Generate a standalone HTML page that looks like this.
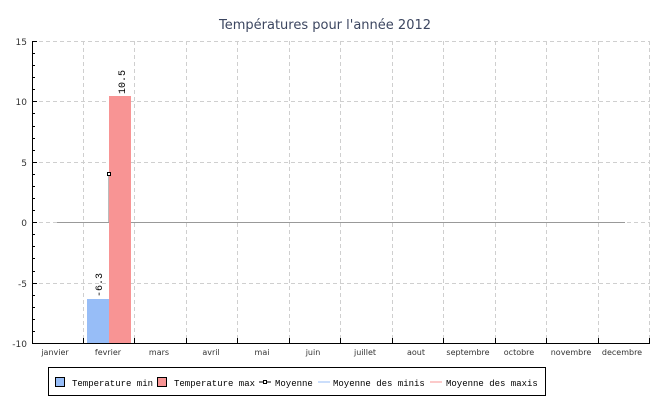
<!DOCTYPE html>
<html><head><meta charset="utf-8"><style>
body{margin:0;background:#fff}
svg{display:block}
text{font-family:"DejaVu Sans","Liberation Sans",sans-serif}
text.m{font-family:"Liberation Mono","DejaVu Sans Mono",monospace}
</style></head><body>
<svg width="650" height="400" xmlns="http://www.w3.org/2000/svg">
<rect width="650" height="400" fill="#fff"/>
<text x="325" y="29" text-anchor="middle" font-size="13" fill="#3c4660">Températures pour l'année 2012</text>
<g stroke="#cfcfcf" stroke-dasharray="4,3" stroke-width="1">
<line x1="32" y1="41.5" x2="650" y2="41.5"/>
<line x1="32" y1="101.5" x2="650" y2="101.5"/>
<line x1="32" y1="162.5" x2="650" y2="162.5"/>
<line x1="32" y1="222.5" x2="650" y2="222.5"/>
<line x1="32" y1="283.5" x2="650" y2="283.5"/>
<line x1="83.5" y1="41" x2="83.5" y2="343"/>
<line x1="134.5" y1="41" x2="134.5" y2="343"/>
<line x1="186.5" y1="41" x2="186.5" y2="343"/>
<line x1="237.5" y1="41" x2="237.5" y2="343"/>
<line x1="289.5" y1="41" x2="289.5" y2="343"/>
<line x1="340.5" y1="41" x2="340.5" y2="343"/>
<line x1="392.5" y1="41" x2="392.5" y2="343"/>
<line x1="443.5" y1="41" x2="443.5" y2="343"/>
<line x1="495.5" y1="41" x2="495.5" y2="343"/>
<line x1="546.5" y1="41" x2="546.5" y2="343"/>
<line x1="598.5" y1="41" x2="598.5" y2="343"/>
<line x1="649.5" y1="41" x2="649.5" y2="343"/>
</g>
<line x1="57" y1="222.5" x2="625" y2="222.5" stroke="#999"/>
<line x1="108.5" y1="174" x2="108.5" y2="222" stroke="#bbb"/>
<rect x="87" y="299" width="22" height="44" fill="#97bdf7"/>
<rect x="109" y="96" width="22" height="247" fill="#f89494"/>
<rect x="107.5" y="172.5" width="3" height="3" fill="#fff" stroke="#000"/>
<g stroke="#000" stroke-width="1">
<line x1="32.5" y1="41" x2="32.5" y2="343"/>
<line x1="32" y1="343.5" x2="650" y2="343.5"/>
<line x1="32" y1="41.5" x2="37" y2="41.5"/><line x1="32" y1="101.5" x2="37" y2="101.5"/><line x1="32" y1="162.5" x2="37" y2="162.5"/><line x1="32" y1="222.5" x2="37" y2="222.5"/><line x1="32" y1="283.5" x2="37" y2="283.5"/>
<line x1="83.5" y1="338" x2="83.5" y2="343"/><line x1="134.5" y1="338" x2="134.5" y2="343"/><line x1="186.5" y1="338" x2="186.5" y2="343"/><line x1="237.5" y1="338" x2="237.5" y2="343"/><line x1="289.5" y1="338" x2="289.5" y2="343"/><line x1="340.5" y1="338" x2="340.5" y2="343"/><line x1="392.5" y1="338" x2="392.5" y2="343"/><line x1="443.5" y1="338" x2="443.5" y2="343"/><line x1="495.5" y1="338" x2="495.5" y2="343"/><line x1="546.5" y1="338" x2="546.5" y2="343"/><line x1="598.5" y1="338" x2="598.5" y2="343"/><line x1="649.5" y1="338" x2="649.5" y2="343"/>
</g>
<g stroke="#000">
<line x1="32" y1="53.5" x2="35" y2="53.5"/><line x1="32" y1="65.5" x2="35" y2="65.5"/><line x1="32" y1="77.5" x2="35" y2="77.5"/><line x1="32" y1="89.5" x2="35" y2="89.5"/>
<line x1="32" y1="113.5" x2="35" y2="113.5"/><line x1="32" y1="126.5" x2="35" y2="126.5"/><line x1="32" y1="138.5" x2="35" y2="138.5"/><line x1="32" y1="150.5" x2="35" y2="150.5"/>
<line x1="32" y1="174.5" x2="35" y2="174.5"/><line x1="32" y1="186.5" x2="35" y2="186.5"/><line x1="32" y1="198.5" x2="35" y2="198.5"/><line x1="32" y1="210.5" x2="35" y2="210.5"/>
<line x1="32" y1="234.5" x2="35" y2="234.5"/><line x1="32" y1="246.5" x2="35" y2="246.5"/><line x1="32" y1="258.5" x2="35" y2="258.5"/><line x1="32" y1="271.5" x2="35" y2="271.5"/>
<line x1="32" y1="295.5" x2="35" y2="295.5"/><line x1="32" y1="307.5" x2="35" y2="307.5"/><line x1="32" y1="319.5" x2="35" y2="319.5"/><line x1="32" y1="331.5" x2="35" y2="331.5"/>
</g>
<g font-size="9" fill="#333" text-anchor="end">
<text x="27" y="45">15</text><text x="27" y="105">10</text><text x="27" y="166">5</text><text x="27" y="226">0</text><text x="27" y="287">-5</text><text x="27" y="347">-10</text>
</g>
<g font-size="8" fill="#333" text-anchor="middle">
<text x="55" y="355">janvier</text><text x="108" y="355">fevrier</text><text x="159" y="355">mars</text><text x="211" y="355">avril</text><text x="262" y="355">mai</text><text x="313" y="355">juin</text><text x="365" y="355">juillet</text><text x="416" y="355">aout</text><text x="468" y="355">septembre</text><text x="519" y="355">octobre</text><text x="571" y="355">novembre</text><text x="622" y="355">decembre</text>
</g>
<text class="m" transform="translate(102,297) rotate(-90)" font-size="10" fill="#000">-6.3</text>
<text class="m" transform="translate(125,94) rotate(-90)" font-size="10" fill="#000">10.5</text>
<rect x="48.5" y="367.5" width="497" height="28" fill="#fff" stroke="#000"/>
<rect x="55.5" y="377.5" width="9" height="9" fill="#97bdf7" stroke="#000"/>
<text class="m" x="72" y="386" font-size="9" fill="#000">Temperature min</text>
<rect x="157.5" y="377.5" width="9" height="9" fill="#f89494" stroke="#000"/>
<text class="m" x="174" y="386" font-size="9" fill="#000">Temperature max</text>
<line x1="259" y1="382" x2="271" y2="382" stroke="#000"/>
<rect x="263.5" y="380.5" width="3" height="3" fill="#fff" stroke="#000"/>
<text class="m" x="275" y="386" font-size="9" fill="#000">Moyenne</text>
<line x1="318" y1="382" x2="330" y2="382" stroke="#97bdf7"/>
<text class="m" x="333" y="386" font-size="9" fill="#000">Moyenne des minis</text>
<line x1="430" y1="382" x2="442" y2="382" stroke="#f89494"/>
<text class="m" x="446" y="386" font-size="9" fill="#000">Moyenne des maxis</text>
</svg>
</body></html>
